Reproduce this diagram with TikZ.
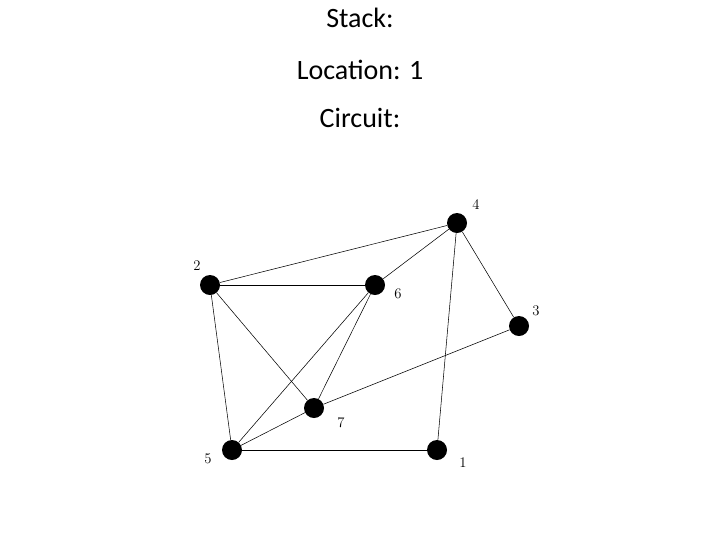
\documentclass[tikz,border=0pt]{standalone}
\usepackage{fontspec}
\newfontfamily\titlefont{Carlito}
\begin{document}
\begin{tikzpicture}[x=0.75pt,y=-0.75pt,
  vertex/.style={circle, fill=black, inner sep=0pt, minimum size=15pt},
  vlabel/.style={font=\fontsize{11}{11}\selectfont},
  title/.style={font=\titlefont\fontsize{21}{21}\selectfont}]
\useasboundingbox (0,0) rectangle (720,540);
\node[title] (stack) at (360,18) {Stack:};
\node[title] (loc) at (360,70) {Location: 1};
\node[title] (circ) at (360,118) {Circuit:};
\node[vertex] (v4) at (457,223) {};
\node[vertex] (v2) at (210,285) {};
\node[vertex] (v6) at (375,285) {};
\node[vertex] (v3) at (519,326) {};
\node[vertex] (v7) at (314,408) {};
\node[vertex] (v5) at (232,450) {};
\node[vertex] (v1) at (437,450) {};
\node[vlabel] (l4) at (476,205) {4};
\node[vlabel] (l2) at (197,266) {2};
\node[vlabel] (l6) at (398,294) {6};
\node[vlabel] (l3) at (536,311) {3};
\node[vlabel] (l7) at (341,423) {7};
\node[vlabel] (l5) at (208,459) {5};
\node[vlabel] (l1) at (463,463) {1};
\draw (v2) -- (v4);
\draw (v2) -- (v6);
\draw (v2) -- (v7);
\draw (v2) -- (v5);
\draw (v4) -- (v6);
\draw (v4) -- (v3);
\draw (v4) -- (v1);
\draw (v6) -- (v5);
\draw (v6) -- (v7);
\draw (v3) -- (v7);
\draw (v7) -- (v5);
\draw (v5) -- (v1);
\end{tikzpicture}
\end{document}
